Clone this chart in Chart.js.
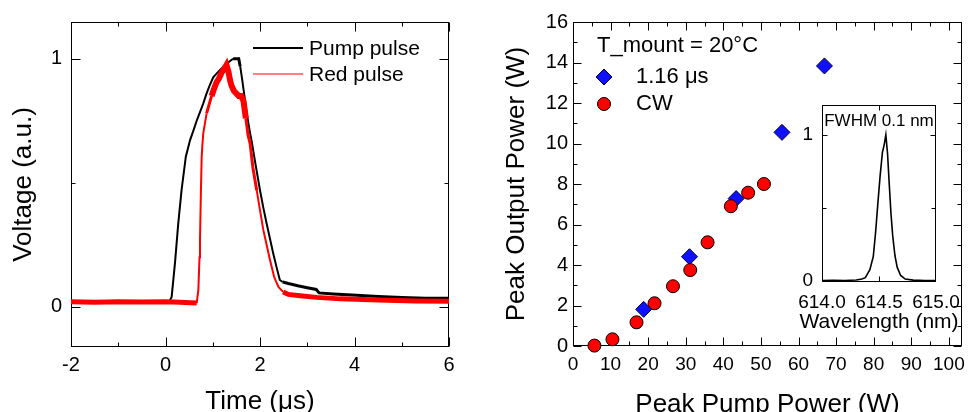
<!DOCTYPE html>
<html>
<head>
<meta charset="utf-8">
<title>Pulse shape and output power</title>
<script src="https://cdn.jsdelivr.net/npm/chart.js@4.4.0/dist/chart.umd.min.js"></script>
<style>
    html, body { margin: 0; padding: 0; background: #fff; }
    #wrap { position: relative; width: 971px; height: 412px; overflow: hidden; }
    #wrap canvas { position: absolute; }
</style>
</head>
<body>
<div id="wrap">
    <canvas id="pulse" width="460" height="412" style="left:0;top:0;"></canvas>
    <canvas id="power" width="481" height="412" style="left:490px;top:0;"></canvas>
    <canvas id="spec" width="181" height="240" style="left:790px;top:100px;"></canvas>
</div>
<script>
// --- left panel: pulse traces (time in µs, normalised voltage)
const timePump = [-2.0, -1.5, -1.0, -0.5, 0.0, 0.09, 0.13, 0.20, 0.27, 0.34, 0.43, 0.52, 0.59, 0.66, 0.73,
    0.80, 0.87, 0.94, 1.01, 1.08, 1.15, 1.22, 1.29, 1.36, 1.43, 1.50, 1.55, 1.58, 1.62, 1.67, 1.72, 1.79, 1.82,
    1.90, 2.00, 2.07, 2.14, 2.21, 2.28, 2.35, 2.42, 2.48, 2.60, 2.80, 3.00, 3.19, 3.25, 3.55, 4.04, 4.50, 5.00, 5.50, 6.00];
const pumpV = [0.02, 0.022, 0.02, 0.021, 0.02, 0.025, 0.04, 0.175, 0.336, 0.47, 0.605, 0.672, 0.71, 0.75, 0.785,
    0.82, 0.86, 0.895, 0.925, 0.94, 0.954, 0.967, 0.98, 0.99, 1.0, 1.0, 1.0, 0.97, 0.92, 0.85, 0.78, 0.70, 0.672,
    0.58, 0.47, 0.40, 0.336, 0.275, 0.215, 0.16, 0.108, 0.10, 0.094, 0.085, 0.077, 0.07, 0.056, 0.052, 0.047, 0.042, 0.038, 0.035, 0.034];
const timeRed = [-2.0, -1.5, -1.0, -0.5, 0.0, 0.3, 0.66, 0.695, 0.72, 0.73, 0.75, 0.765, 0.78, 0.80, 0.87,
    0.93, 0.975, 1.03, 1.08, 1.13, 1.19, 1.26, 1.29, 1.33, 1.37, 1.40, 1.45, 1.50, 1.55, 1.60, 1.65, 1.70, 1.75,
    1.79, 1.85, 1.93, 2.00, 2.07, 2.14, 2.21, 2.30, 2.39, 2.49, 2.60, 2.85, 3.20, 3.70, 4.50, 5.30, 6.00];
const redV = [0.02, 0.018, 0.02, 0.019, 0.02, 0.018, 0.015, 0.067, 0.2, 0.27, 0.47, 0.60, 0.65, 0.70, 0.78,
    0.82, 0.85, 0.88, 0.905, 0.92, 0.945, 0.965, 0.975, 0.95, 0.91, 0.89, 0.87, 0.86, 0.85, 0.85, 0.83, 0.76, 0.69,
    0.66, 0.56, 0.47, 0.39, 0.31, 0.25, 0.19, 0.12, 0.08, 0.06, 0.05, 0.045, 0.038, 0.032, 0.027, 0.023, 0.022];
const pulseXTicks = [-2, 0, 2, 4, 6];
const pulseXMinor = [-1, 1, 3, 5];
const pulseYTicks = [0, 1];
const pulseYMinor = [0.5];

// --- right panel: peak output vs peak pump power (W)
const pumpPulsed = [18.8, 31.0, 43.4, 55.6, 66.9];
const outPulsed = [1.81, 4.41, 7.28, 10.55, 13.83];
const pumpCW = [5.7, 10.5, 16.9, 21.7, 26.6, 31.2, 35.8, 42.0, 46.6, 50.8];
const outCW = [0.02, 0.33, 1.17, 2.11, 2.95, 3.75, 5.12, 6.90, 7.57, 8.0];
const powerXTicks = [0, 10, 20, 30, 40, 50, 60, 70, 80, 90, 100];
const powerXMinor = [5, 15, 25, 35, 45, 55, 65, 75, 85, 95];
const powerYTicks = [0, 2, 4, 6, 8, 10, 12, 14, 16];
const powerYMinor = [1, 3, 5, 7, 9, 11, 13, 15];

// --- inset: emission spectrum
const specWl = [614.00, 614.10, 614.20, 614.30, 614.35, 614.38, 614.42, 614.45, 614.47, 614.49, 614.51, 614.53,
    614.545, 614.56, 614.575, 614.59, 614.605, 614.62, 614.64, 614.66, 614.69, 614.73, 614.80, 614.90, 615.00];
const specV = [0, 0.002, 0, 0.004, 0.01, 0.02, 0.075, 0.166, 0.33, 0.53, 0.72, 0.88,
    0.93, 1.0, 0.87, 0.66, 0.46, 0.31, 0.17, 0.09, 0.035, 0.01, 0.003, 0, 0];
const specXTicks = [614.0, 614.5, 615.0];
const specYTicks = [0, 1];
const specYMinor = [0.5];

const FONT = "'Liberation Sans', Arial, sans-serif";
Chart.defaults.font.family = FONT;
Chart.defaults.color = '#000';

const pts = (xs, ys) => xs.map((x, i) => ({ x, y: ys[i] }));

// box round the plot area, ticks pointing inwards on all four sides
const frameTicks = {
    id: 'frameTicks',
    beforeDatasetsDraw(chart, args, o) {
        const { ctx, chartArea: a, scales: { x, y } } = chart;
        const L = Math.round(a.left) + 0.5, R = Math.round(a.right) - 0.5;
        const T = Math.round(a.top) + 0.5, B = Math.round(a.bottom) - 0.5;
        ctx.save();
        ctx.strokeStyle = '#000';
        ctx.lineWidth = 1;
        ctx.strokeRect(L, T, R - L, B - T);
        ctx.beginPath();
        const xMarks = (vals, len) => vals.forEach((v) => {
            const px = Math.round(x.getPixelForValue(v)) + 0.5;
            ctx.moveTo(px, B); ctx.lineTo(px, B - len);
            ctx.moveTo(px, T); ctx.lineTo(px, T + len);
        });
        const yMarks = (vals, len) => vals.forEach((v) => {
            const py = Math.round(y.getPixelForValue(v)) + 0.5;
            ctx.moveTo(L, py); ctx.lineTo(L + len, py);
            ctx.moveTo(R, py); ctx.lineTo(R - len, py);
        });
        xMarks(o.xMajor || [], o.major);
        xMarks(o.xMinor || [], o.minor);
        yMarks(o.yMajor || [], o.major);
        yMarks(o.yMinor || [], o.minor);
        ctx.stroke();
        ctx.restore();
    },
};

// small legends / captions placed inside the panels
const boxLegend = {
    id: 'boxLegend',
    afterDraw(chart, args, o) {
        if (!o.rows) return;
        const ctx = chart.ctx;
        ctx.save();
        ctx.textBaseline = 'middle';
        o.rows.forEach((r) => {
            const ds = r.dataset != null ? chart.data.datasets[r.dataset] : null;
            if (ds && r.sample === 'line') {
                ctx.strokeStyle = ds.borderColor;
                ctx.lineWidth = r.lineWidth || ds.borderWidth;
                ctx.beginPath();
                ctx.moveTo(r.sx, r.y - 1); ctx.lineTo(r.sx + r.sw, r.y - 1);
                ctx.stroke();
            } else if (ds && r.sample === 'point') {
                ctx.fillStyle = ds.backgroundColor;
                ctx.strokeStyle = ds.borderColor;
                ctx.lineWidth = ds.borderWidth;
                Chart.helpers.drawPoint(ctx, { pointStyle: ds.pointStyle, radius: ds.pointRadius, borderWidth: ds.borderWidth, rotation: 0 }, r.sx, r.y);
            }
            ctx.font = r.font || o.font;
            ctx.fillStyle = '#000';
            ctx.textAlign = r.align || 'left';
            ctx.fillText(ds ? ds.label : r.text, r.x, r.y);
        });
        ctx.restore();
    },
};

function linAxis(opts) {
    return {
        type: 'linear', min: opts.min, max: opts.max,
        grid: { display: false, drawTicks: false }, border: { display: false },
        ticks: { padding: opts.pad, font: { size: opts.size }, color: '#000', maxRotation: 0, autoSkip: false,
            callback: opts.fmt || ((v) => String(v)) },
        afterBuildTicks: (s) => { s.ticks = opts.ticks.map((v) => ({ value: v })); },
        afterFit: (s) => {
            if (opts.height != null) s.height = opts.height;
            if (opts.width != null) s.width = opts.width;
            s.paddingLeft = 0; s.paddingRight = 0; s.paddingTop = 0; s.paddingBottom = 0;
        },
        title: opts.title ? { display: true, text: opts.title, color: '#000', font: { size: 26, lineHeight: 1 }, padding: opts.titlePad } : { display: false },
    };
}

const base = { responsive: false, animation: false, events: [] };

new Chart(document.getElementById('pulse'), {
    type: 'line',
    data: {
        datasets: [
            { label: 'Pump pulse', data: pts(timePump, pumpV), borderColor: '#000', borderWidth: 2, pointRadius: 0, order: 1,
                segment: { borderWidth: (c) => (c.p0.parsed.x > 2.45 || (c.p0.parsed.x > 1.4 && c.p0.parsed.x < 1.56) ? 3 : 2) } },
            { label: 'Red pulse', data: pts(timeRed, redV), borderColor: '#ff0000', borderWidth: 2, pointRadius: 0, order: 0,
                segment: { borderWidth: (c) => {
                    const t = c.p0.parsed.x;
                    if (t < 0.66 || t > 2.45) return 5;
                    if (t > 0.95 && t < 1.68) return 6;
                    return t > 0.8 && t < 1.9 ? 3 : 2;
                } } },
        ],
    },
    options: {
        ...base,
        layout: { padding: { top: 22, right: 11, left: 0, bottom: 0 } },
        plugins: {
            legend: { display: false }, tooltip: { enabled: false },
            frameTicks: { xMajor: pulseXTicks, xMinor: pulseXMinor, yMajor: pulseYTicks, yMinor: pulseYMinor, major: 9, minor: 4 },
            boxLegend: { font: `21px ${FONT}`, rows: [
                { dataset: 0, sample: 'line', sx: 253, sw: 50, x: 309, y: 49, lineWidth: 2 },
                { dataset: 1, sample: 'line', sx: 253, sw: 50, x: 309, y: 75, lineWidth: 1 },
            ] },
        },
        scales: {
            x: linAxis({ min: -2, max: 6, ticks: pulseXTicks, pad: 6, size: 20, height: 65, title: 'Time (μs)', titlePad: { top: 0, bottom: -3 } }),
            y: linAxis({ min: -0.162, max: 1.148, ticks: pulseYTicks, pad: 9, size: 20, width: 71, title: 'Voltage (a.u.)', titlePad: { top: 11, bottom: 0 } }),
        },
    },
    plugins: [frameTicks, boxLegend],
});

new Chart(document.getElementById('power'), {
    type: 'scatter',
    data: {
        datasets: [
            { label: '1.16 μs', data: pts(pumpPulsed, outPulsed), pointStyle: 'rectRot', pointRadius: 8, backgroundColor: '#1010ff', borderColor: '#000033', borderWidth: 1, order: 1, clip: false },
            { label: 'CW', data: pts(pumpCW, outCW), pointStyle: 'circle', pointRadius: 6.5, backgroundColor: '#ff0000', borderColor: '#000', borderWidth: 1, order: 0, clip: false },
        ],
    },
    options: {
        ...base,
        layout: { padding: { top: 22, right: 2, left: 0, bottom: 0 } },
        plugins: {
            legend: { display: false }, tooltip: { enabled: false },
            frameTicks: { xMajor: powerXTicks, xMinor: powerXMinor, yMajor: powerYTicks, yMinor: powerYMinor, major: 8, minor: 4 },
            boxLegend: { font: `22px ${FONT}`, rows: [
                { text: 'T_mount = 20°C', x: 107, y: 46 },
                { dataset: 0, sample: 'point', sx: 114, x: 146, y: 77 },
                { dataset: 1, sample: 'point', sx: 114, x: 146, y: 104 },
            ] },
        },
        scales: {
            x: linAxis({ min: 0, max: 103.5, ticks: powerXTicks, pad: 7, size: 19, height: 66, title: 'Peak Pump Power (W)', titlePad: { top: 0, bottom: -6 } }),
            y: linAxis({ min: 0, max: 16, ticks: powerYTicks, pad: 5, size: 20, width: 83, title: 'Peak Output Power (W)', titlePad: { top: 14, bottom: 0 } }),
        },
    },
    plugins: [frameTicks, boxLegend],
});

new Chart(document.getElementById('spec'), {
    type: 'line',
    data: { datasets: [{ label: 'spectrum', data: pts(specWl, specV), borderColor: '#000', borderWidth: 1.6, pointRadius: 0 }] },
    options: {
        ...base,
        layout: { padding: { top: 5, right: 35, left: 0, bottom: 0 } },
        plugins: {
            legend: { display: false }, tooltip: { enabled: false },
            frameTicks: { xMajor: [614.5], yMajor: specYTicks, yMinor: specYMinor, major: 5, minor: 4 },
            boxLegend: { font: `21px ${FONT}`, rows: [
                { text: 'FWHM 0.1 nm', x: 89, y: 21, align: 'center', font: `17px ${FONT}` },
                { text: 'Wavelength (nm)', x: 89, y: 222, align: 'center' },
            ] },
        },
        scales: {
            x: linAxis({ min: 614.0, max: 615.0, ticks: specXTicks, pad: 9, size: 19, height: 58, fmt: (v) => v.toFixed(1) }),
            y: linAxis({ min: -0.01, max: 1.205, ticks: specYTicks, pad: 9, size: 19, width: 32 }),
        },
    },
    plugins: [frameTicks, boxLegend],
});
</script>
</body>
</html>
